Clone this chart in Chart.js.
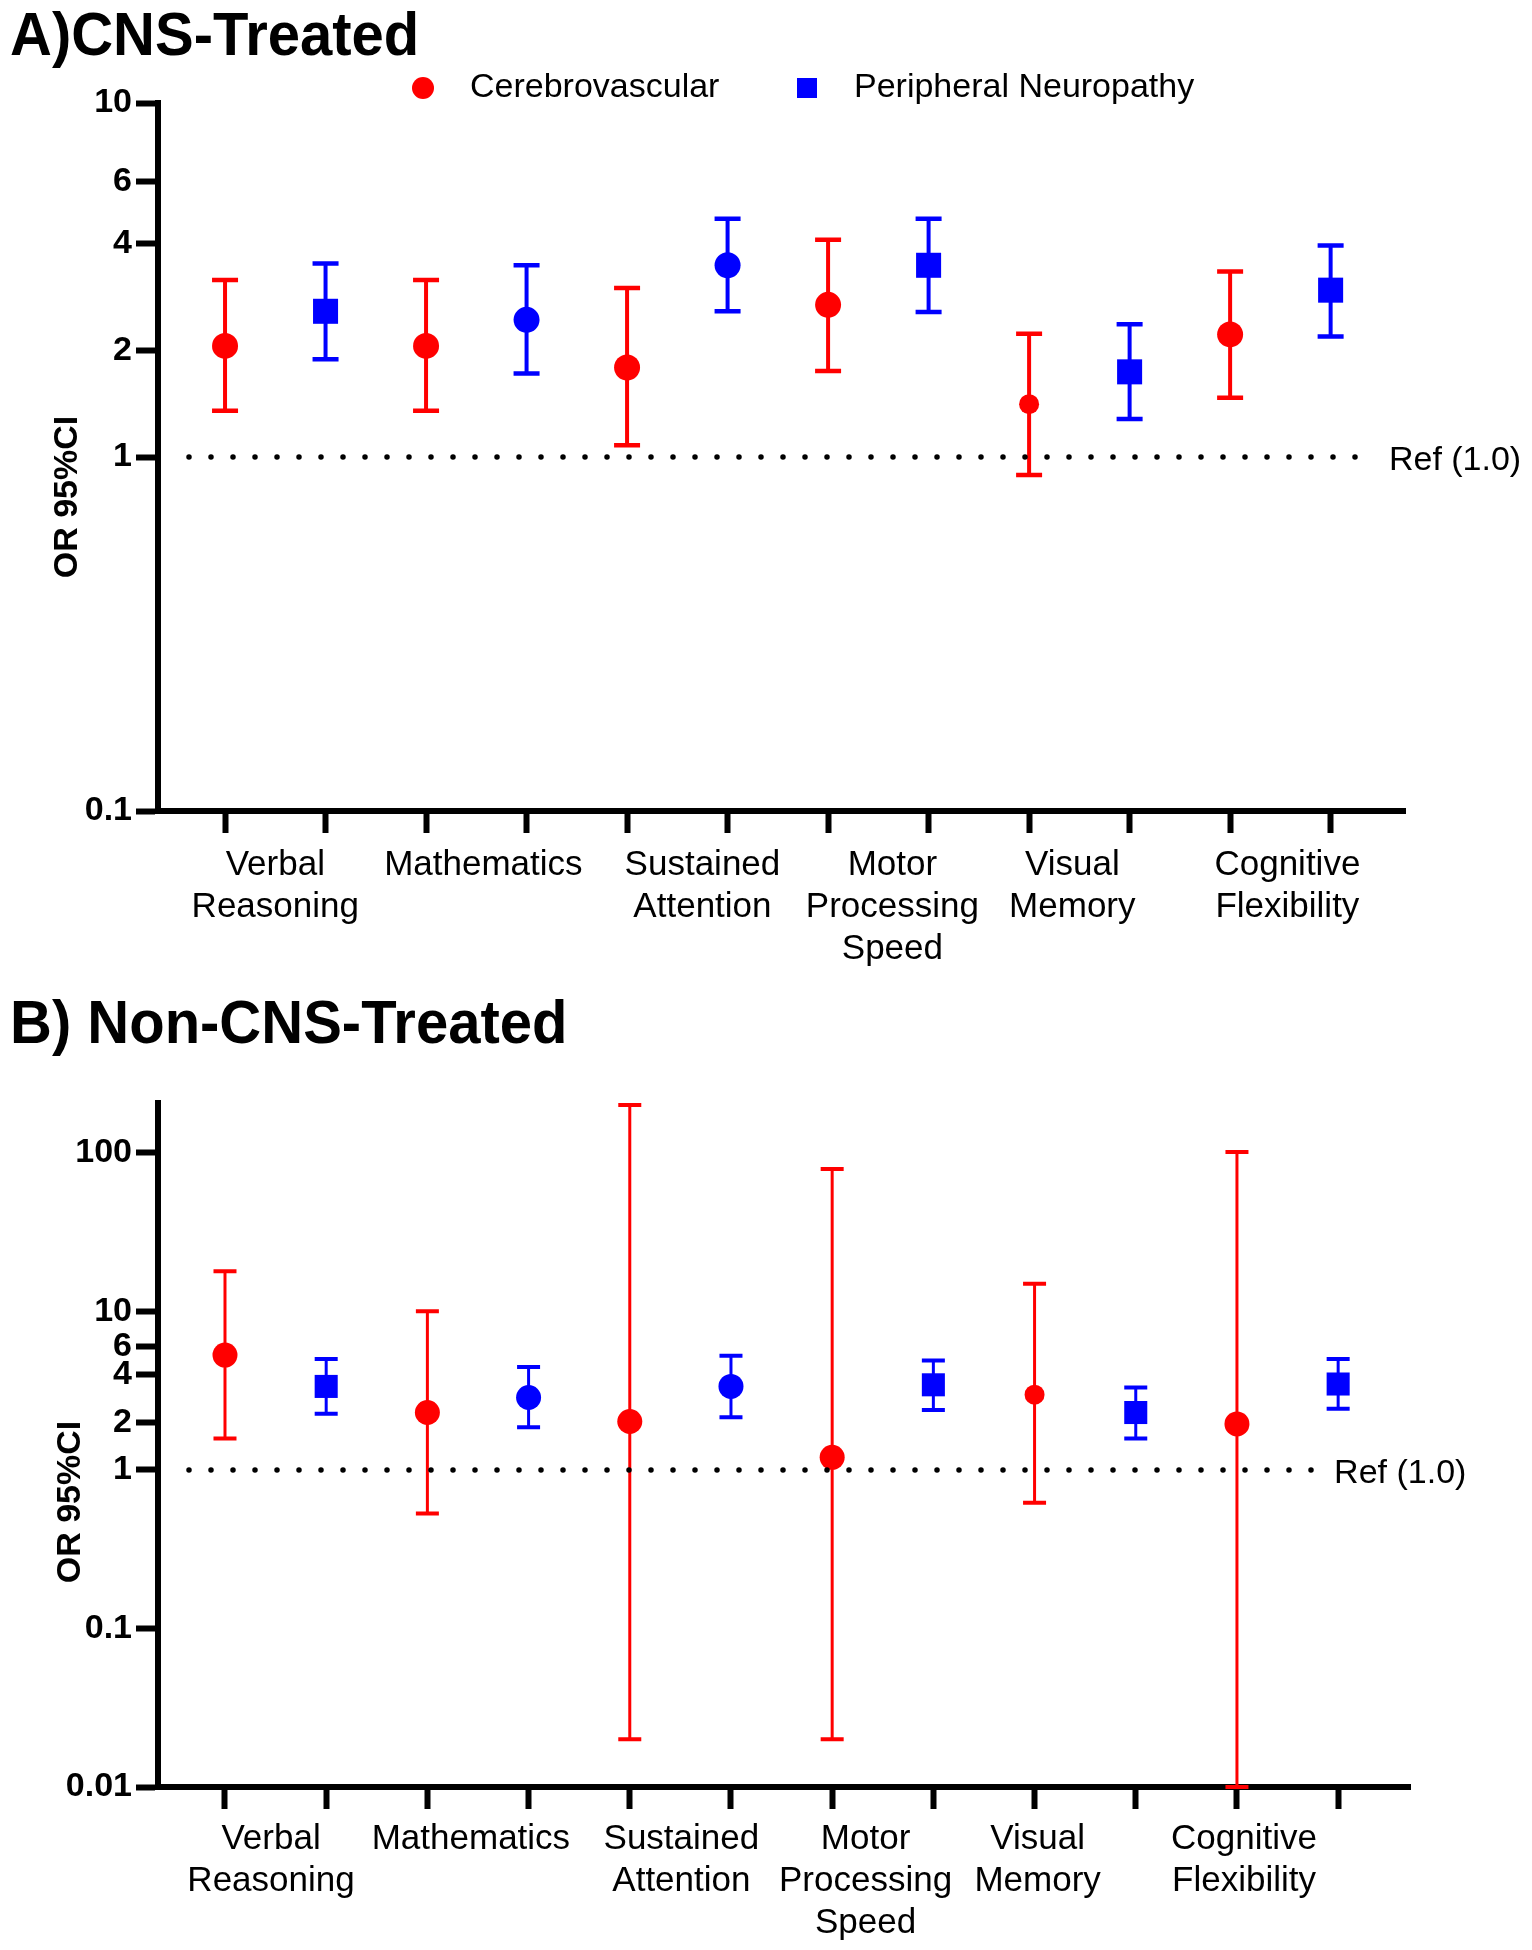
<!DOCTYPE html>
<html>
<head>
<meta charset="utf-8">
<title>OR 95%CI</title>
<script src="https://cdn.jsdelivr.net/npm/chart.js@4.4.1/dist/chart.umd.min.js"></script>
<style>
  html, body { margin: 0; padding: 0; background: #ffffff; }
  #wrapA { position: absolute; left: 0; top: 0; width: 1532px; height: 990px; }
  #wrapB { position: absolute; left: 0; top: 990px; width: 1532px; height: 960px; }
  canvas { display: block; }
</style>
</head>
<body>
<div id="wrapA"><canvas id="chartA" width="1532" height="990"></canvas></div>
<div id="wrapB"><canvas id="chartB" width="1532" height="960"></canvas></div>
<script>
// ---------------- DATA ----------------
const categories = [
  ['Verbal', 'Reasoning'],
  ['Mathematics'],
  ['Sustained', 'Attention'],
  ['Motor', 'Processing', 'Speed'],
  ['Visual', 'Memory'],
  ['Cognitive', 'Flexibility']
];
const seriesNames = ['Cerebrovascular', 'Peripheral Neuropathy'];

// Panel A) CNS-Treated
const aCerebroOR = [2.06, 2.06, 1.79, 2.69, 1.41, 2.22];
const aCerebroLo = [1.35, 1.35, 1.08, 1.75, 0.89, 1.47];
const aCerebroHi = [3.16, 3.16, 3.00, 4.11, 2.23, 3.34];
const aNeuroOR   = [2.58, 2.44, 3.48, 3.48, 1.74, 2.96];
const aNeuroLo   = [1.89, 1.72, 2.58, 2.57, 1.28, 2.19];
const aNeuroHi   = [3.52, 3.48, 4.71, 4.71, 2.37, 3.96];

// Panel B) Non-CNS-Treated
const bCerebroOR = [5.30, 2.30, 2.02, 1.20, 2.98, 1.95];
const bCerebroLo = [1.58, 0.53, 0.02, 0.02, 0.62, 0.01];
const bCerebroHi = [17.9, 10.0, 200, 79, 14.9, 101];
const bNeuroOR   = [3.36, 2.86, 3.36, 3.44, 2.30, 3.48];
const bNeuroLo   = [2.26, 1.86, 2.15, 2.39, 1.58, 2.43];
const bNeuroHi   = [5.00, 4.45, 5.25, 4.90, 3.31, 5.00];

const aTickValues = [0.1, 1, 2, 4, 6, 10];
const aTickLabels = ['0.1', '1', '2', '4', '6', '10'];
const bTickValues = [0.01, 0.1, 1, 2, 4, 6, 10, 100];
const bTickLabels = ['0.01', '0.1', '1', '2', '4', '6', '10', '100'];

const refValue = 1.0;
const refLabel = 'Ref (1.0)';
const yTitle = 'OR 95%CI';
const panelTitles = ['A)CNS-Treated', 'B) Non-CNS-Treated'];

// ---------------- STYLE / LAYOUT ----------------
const FONT = '"Liberation Sans", Arial, Helvetica, sans-serif';
const RED = '#ff0000';
const BLUE = '#0000ff';
const neuroShapes = ['rect', 'circle', 'circle', 'rect', 'rect', 'rect'];
const smallCerebroIndex = 4;

// error bars drawn through the chart's scales
const errorBars = {
  id: 'errorBars',
  beforeDatasetsDraw(chart, args, o) {
    const { ctx } = chart;
    const xs = chart.scales.x, ys = chart.scales.y;
    ctx.save();
    chart.data.datasets.forEach(ds => {
      ctx.strokeStyle = ds.backgroundColor;
      ds.data.forEach(p => {
        const px = xs.getPixelForValue(p.x);
        const yl = ys.getPixelForValue(p.yMin);
        const yh = ys.getPixelForValue(p.yMax);
        ctx.lineCap = 'butt';
        ctx.lineWidth = o.stemWidth;
        ctx.beginPath();
        ctx.moveTo(px, yl); ctx.lineTo(px, yh);
        ctx.stroke();
        ctx.lineWidth = o.capThickness;
        ctx.beginPath();
        ctx.moveTo(px - o.capWidth / 2, yl); ctx.lineTo(px + o.capWidth / 2, yl);
        ctx.moveTo(px - o.capWidth / 2, yh); ctx.lineTo(px + o.capWidth / 2, yh);
        ctx.stroke();
      });
    });
    ctx.restore();
  }
};

// reference line, titles, legend
const decorations = {
  id: 'decorations',
  afterDraw(chart, args, o) {
    const { ctx, chartArea } = chart;
    const xs = chart.scales.x, ys = chart.scales.y;
    const py = ys.getPixelForValue(refValue);
    ctx.save();
    // dotted reference line
    ctx.strokeStyle = '#000';
    ctx.lineWidth = 5.5;
    ctx.lineCap = 'round';
    ctx.setLineDash([0, 22]);
    ctx.beginPath();
    ctx.moveTo(chartArea.left + o.refStart, py);
    ctx.lineTo(xs.getPixelForValue(o.refEnd), py);
    ctx.stroke();
    ctx.setLineDash([]);
    // reference label
    ctx.fillStyle = '#000';
    ctx.font = '34px ' + FONT;
    ctx.textAlign = 'left';
    ctx.textBaseline = 'middle';
    ctx.fillText(refLabel, xs.getPixelForValue(o.refLabelX), py + 4);
    // panel title (slightly tall glyphs as in the original)
    ctx.save();
    ctx.font = 'bold 58px ' + FONT;
    ctx.textBaseline = 'alphabetic';
    ctx.translate(o.titleX, o.titleY);
    ctx.scale(1, 1.05);
    ctx.fillText(o.title, 0, 0);
    ctx.restore();
    // legend
    if (o.legend) {
      ctx.font = '34px ' + FONT;
      ctx.textBaseline = 'middle';
      ctx.textAlign = 'left';
      chart.data.datasets.forEach((ds, i) => {
        const m = o.legend.markers[i];
        ctx.fillStyle = ds.backgroundColor;
        if (o.legend.shapes[i] === 'circle') {
          ctx.beginPath();
          ctx.arc(m, o.legend.y, 11, 0, Math.PI * 2);
          ctx.fill();
        } else {
          ctx.fillRect(m - 10, o.legend.y - 10, 20, 20);
        }
        ctx.fillStyle = '#000';
        ctx.fillText(ds.label, o.legend.texts[i], o.legend.y);
      });
    }
    // y axis title
    ctx.translate(o.yTitleX, o.yTitleY);
    ctx.rotate(-Math.PI / 2);
    ctx.font = 'bold 34px ' + FONT;
    ctx.textAlign = 'center';
    ctx.textBaseline = 'middle';
    ctx.fillStyle = '#000';
    ctx.fillText(yTitle, 0, 0);
    ctx.restore();
  }
};

function makeDatasets(cOR, cLo, cHi, nOR, nLo, nHi, st) {
  return [
    {
      label: seriesNames[0],
      data: cOR.map((v, i) => ({ x: 2 * i + 1, y: v, yMin: cLo[i], yMax: cHi[i] })),
      backgroundColor: RED,
      borderColor: RED,
      pointBackgroundColor: RED,
      pointBorderWidth: 0,
      pointStyle: cOR.map(() => 'circle'),
      pointRadius: cOR.map((v, i) => i === smallCerebroIndex ? st.smallR : st.circleR),
      showLine: false
    },
    {
      label: seriesNames[1],
      data: nOR.map((v, i) => ({ x: 2 * i + 2, y: v, yMin: nLo[i], yMax: nHi[i] })),
      backgroundColor: BLUE,
      borderColor: BLUE,
      pointBackgroundColor: BLUE,
      pointBorderWidth: 0,
      pointStyle: neuroShapes,
      pointRadius: neuroShapes.map(s => s === 'rect' ? st.rectR : st.circleR),
      showLine: false
    }
  ];
}

function makeChart(id, cfg) {
  const markTicks = [];
  for (let i = 1; i <= categories.length * 2; i++) markTicks.push(i);
  const allTicks = markTicks.concat(cfg.labelPos).sort((a, b) => a - b);
  const labelFor = v => {
    const k = cfg.labelPos.findIndex(p => Math.abs(p - v) < 1e-6);
    return k >= 0 ? categories[k] : '';
  };
  return new Chart(document.getElementById(id), {
    type: 'scatter',
    data: { datasets: makeDatasets(...cfg.series, cfg.marker) },
    options: {
      responsive: false,
      devicePixelRatio: 1,
      animation: false,
      events: [],
      layout: { padding: cfg.padding },
      plugins: {
        legend: { display: false },
        tooltip: { enabled: false },
        title: { display: false },
        errorBars: cfg.bars,
        decorations: cfg.deco
      },
      scales: {
        x: {
          type: 'linear',
          position: 'bottom',
          min: cfg.xMin,
          max: cfg.xMax,
          afterBuildTicks: s => { s.ticks = allTicks.map(v => ({ value: v })); },
          afterFit: s => { s.height = cfg.xHeight; },
          ticks: {
            autoSkip: false,
            maxRotation: 0,
            minRotation: 0,
            padding: cfg.xLabelPad,
            color: '#000',
            font: { family: FONT, size: 35, lineHeight: 1.2 },
            callback: v => labelFor(v)
          },
          grid: {
            drawOnChartArea: false,
            drawTicks: true,
            tickLength: 22,
            tickWidth: 6,
            tickColor: c => (c.tick && Number.isInteger(c.tick.value)) ? '#000' : 'rgba(0,0,0,0)'
          },
          border: { display: true, color: '#000', width: 6 }
        },
        y: {
          type: 'logarithmic',
          position: 'left',
          min: cfg.yMin,
          max: cfg.yMax,
          afterBuildTicks: s => { s.ticks = cfg.yTicks.map(v => ({ value: v })); },
          afterFit: s => { s.width = 158; },
          ticks: {
            autoSkip: false,
            padding: 4,
            color: '#000',
            font: { family: FONT, size: 34, weight: 'bold' },
            callback: v => {
              const k = cfg.yTicks.indexOf(v);
              return k >= 0 ? cfg.yLabels[k] : '';
            }
          },
          grid: {
            drawOnChartArea: false,
            drawTicks: true,
            tickLength: 22,
            tickWidth: 6,
            tickColor: '#000'
          },
          border: { display: true, color: '#000', width: 6 }
        }
      }
    },
    plugins: [errorBars, decorations]
  });
}

makeChart('chartA', {
  series: [aCerebroOR, aCerebroLo, aCerebroHi, aNeuroOR, aNeuroLo, aNeuroHi],
  marker: { circleR: 13, smallR: 10, rectR: 17.7 },
  bars: { stemWidth: 4, capThickness: 4.5, capWidth: 26 },
  padding: { top: 103, right: 127, bottom: 0, left: 0 },
  xMin: 0.333, xMax: 12.74, xHeight: 179, xLabelPad: 11,
  labelPos: [1.50, 3.57, 5.75, 7.64, 9.43, 11.57],
  yMin: 0.1, yMax: 10, yTicks: aTickValues, yLabels: aTickLabels,
  deco: {
    title: panelTitles[0], titleX: 10, titleY: 55,
    yTitleX: 68, yTitleY: 497,
    refStart: 31, refEnd: 12.45, refLabelX: 12.58,
    legend: { y: 88, markers: [423, 807], texts: [470, 854], shapes: ['circle', 'rect'] }
  }
});

makeChart('chartB', {
  series: [bCerebroOR, bCerebroLo, bCerebroHi, bNeuroOR, bNeuroLo, bNeuroHi],
  marker: { circleR: 12.5, smallR: 10, rectR: 16.3 },
  bars: { stemWidth: 3, capThickness: 4, capWidth: 23 },
  padding: { top: 113, right: 122, bottom: 0, left: 0 },
  xMin: 0.338, xMax: 12.71, xHeight: 163, xLabelPad: 9,
  labelPos: [1.455, 3.43, 5.51, 7.33, 9.03, 11.07],
  yMin: 0.01, yMax: 206, yTicks: bTickValues, yLabels: bTickLabels,
  deco: {
    title: panelTitles[1], titleX: 10, titleY: 53,
    yTitleX: 71, yTitleY: 512,
    refStart: 31, refEnd: 11.86, refLabelX: 11.96,
    legend: null
  }
});
</script>
</body>
</html>
